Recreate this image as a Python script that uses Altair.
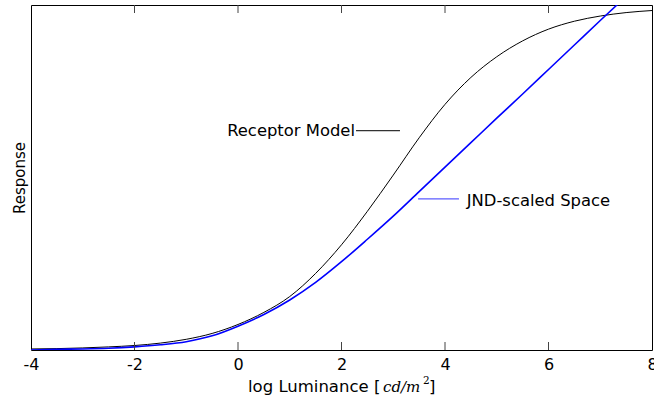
import altair as alt
import pandas as pd

# log luminance sample points
log_lum = [-4, -3.5, -3, -2.5, -2, -1.5, -1, -0.5, 0, 0.5, 1, 1.5, 2, 2.5,
           3, 3.5, 4, 4.5, 5, 5.5, 6, 6.5, 7, 7.5, 8]

# receptor (sigmoid) response
receptor = [0.003, 0.004, 0.006, 0.009, 0.013, 0.020, 0.031, 0.048, 0.074,
            0.109, 0.155, 0.222, 0.305, 0.402, 0.507, 0.615, 0.712, 0.790,
            0.850, 0.896, 0.930, 0.953, 0.968, 0.978, 0.984]

# JND-scaled response (runs past the top of the plot and is clipped)
jnd = [0.000, 0.002, 0.003, 0.005, 0.009, 0.015, 0.024, 0.041, 0.069,
       0.103, 0.145, 0.196, 0.256, 0.321, 0.388, 0.459, 0.530, 0.601,
       0.672, 0.742, 0.813, 0.884, 0.955, 1.025]

x_ticks = [-4, -2, 0, 2, 4, 6, 8]
inner_ticks = [-2, 0, 2, 4, 6]

W, H = 621, 345
FONT = "DejaVu Sans"

rec_df = pd.DataFrame({"x": log_lum, "y": receptor})
jnd_df = pd.DataFrame({"x": log_lum[:len(jnd)], "y": jnd})
tick_df = pd.DataFrame({"x": inner_ticks})

xs = alt.Scale(domain=[-4, 8], nice=False, zero=False)
ys = alt.Scale(domain=[0, 1], nice=False, zero=False)

x_enc = alt.X("x:Q", scale=xs, axis=alt.Axis(
    values=x_ticks, labelExpr="'' + datum.value", title=None,
    labelFlush=False, labelOverlap=False, labelPadding=6,
    labelFontSize=16, labelFont=FONT, labelColor="black"))
y_enc = alt.Y("y:Q", scale=ys, axis=alt.Axis(
    labels=False, ticks=False, title="Response", titleFont=FONT,
    titleFontSize=15, titleFontWeight="normal", titleColor="black",
    titlePadding=4))

receptor_line = alt.Chart(rec_df).mark_line(
    color="black", strokeWidth=1, interpolate="monotone", clip=True
).encode(x=x_enc, y=y_enc)

jnd_line = alt.Chart(jnd_df).mark_line(
    color="#0000ff", strokeWidth=1.6, interpolate="monotone", clip=True
).encode(x=alt.X("x:Q", scale=xs), y=alt.Y("y:Q", scale=ys))

bottom_ticks = alt.Chart(tick_df).mark_rule(color="#444", strokeWidth=1).encode(
    x=alt.X("x:Q", scale=xs), y=alt.value(H), y2=alt.value(H - 8))
top_ticks = alt.Chart(tick_df).mark_rule(color="#444", strokeWidth=1).encode(
    x=alt.X("x:Q", scale=xs), y=alt.value(0), y2=alt.value(8))

# curve labels with short leader lines
leaders = pd.DataFrame({
    "x": [2.28, 3.48], "x2": [3.13, 4.27], "y": [0.636, 0.438],
    "series": ["Receptor Model", "JND-scaled Space"],
})
leader_rules = alt.Chart(leaders).mark_rule(strokeWidth=1.3).encode(
    x=alt.X("x:Q", scale=xs), x2="x2:Q", y=alt.Y("y:Q", scale=ys),
    color=alt.Color("series:N", scale=alt.Scale(
        domain=["Receptor Model", "JND-scaled Space"],
        range=["#333333", "#5c5cff"]), legend=None))

rec_label = alt.Chart(leaders.iloc[[0]]).mark_text(
    align="right", baseline="middle", font=FONT, fontSize=16.4, dx=-1, dy=0,
    color="black"
).encode(x=alt.X("x:Q", scale=xs), y=alt.Y("y:Q", scale=ys), text="series:N")
jnd_label = alt.Chart(leaders.iloc[[1]]).mark_text(
    align="left", baseline="middle", font=FONT, fontSize=16.4, dy=2,
    color="black"
).encode(x=alt.X("x2:Q", scale=xs), y=alt.Y("y:Q", scale=ys), text="series:N")
jnd_label = jnd_label.transform_calculate(x2="datum.x2 + 0.15")

# x-axis title built from plain, italic and superscript pieces
one = pd.DataFrame({"k": [0]})
def piece(txt, px, py, size=16, style="normal", font=FONT):
    return alt.Chart(one).mark_text(
        align="left", baseline="alphabetic", font=font, fontSize=size,
        fontStyle=style, color="black", text=txt
    ).encode(x=alt.value(px), y=alt.value(py))

title_parts = (
    piece("log Luminance [", 217, 387, size=16.5)
    + piece("cd/m", 352, 387, size=15, style="italic", font="DejaVu Serif")
    + piece("2", 392, 379, size=10.5, font="DejaVu Serif")
    + piece("]", 398, 387, size=16.5)
)

chart = alt.layer(
    receptor_line, jnd_line, bottom_ticks, top_ticks, leader_rules,
    rec_label, jnd_label, title_parts
).properties(
    width=W, height=H,
    autosize=alt.AutoSizeParams(type="none"),
    padding={"left": 31, "top": 5, "right": 2, "bottom": 53},
).configure_view(
    stroke="black", strokeWidth=1
).configure_axis(
    grid=False, domain=False, ticks=False
)

chart.save("out.html", embed_options={"renderer": "svg", "actions": False})
